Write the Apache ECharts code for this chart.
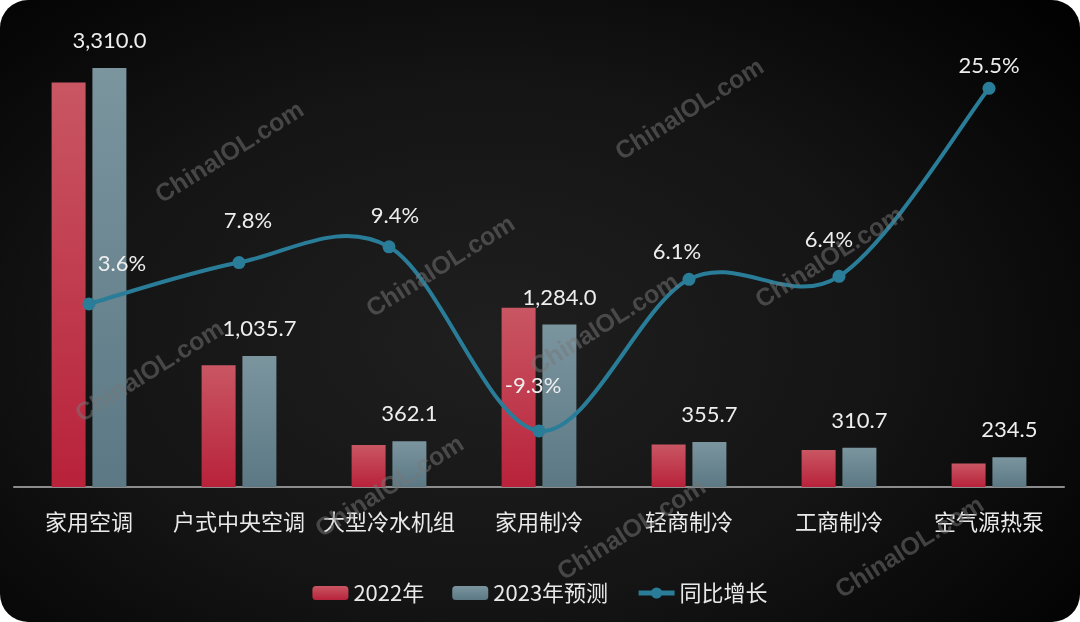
<!DOCTYPE html>
<html>
<head>
<meta charset="utf-8">
<script src="https://cdn.jsdelivr.net/npm/echarts@6/dist/echarts.min.js"></script>
<style>
  html, body { margin: 0; padding: 0; background: #ffffff; }
  #wrap {
    width: 1080px; height: 622px; border-radius: 28px; overflow: hidden;
    background: radial-gradient(ellipse 75% 85% at 45% 55%, #1f1f1f 0%, #141414 50%, #050505 85%, #000 100%);
  }
  #chart { width: 1080px; height: 622px; }
</style>
</head>
<body>
<div id="wrap"><div id="chart"></div></div>
<script>
const categories = ['家用空调', '户式中央空调', '大型冷水机组', '家用制冷', '轻商制冷', '工商制冷', '空气源热泵'];
const values2022 = [3195, 961, 331, 1416, 335, 292, 185];
const values2023 = [3310.0, 1035.7, 362.1, 1284.0, 355.7, 310.7, 234.5];
const growth = [3.6, 7.8, 9.4, -9.3, 6.1, 6.4, 25.5];
const seriesNames = ['2022年', '2023年预测', '同比增长'];

// label placement (style only)
const growthLabelOffsets = [[33, -40], [9, -42], [6, -31], [-6, -45], [-12, -27], [-10, -36], [0, -22]];

const watermarkCenters = [[230,153],[690,110],[441,267],[150,372],[830,258],[605,325],[390,487],[632,530],[910,548]];

const chart = echarts.init(document.getElementById('chart'), null, { renderer: 'canvas' });

const numFont = 'Lato, "Noto Sans", "Noto Sans CJK SC", sans-serif';
const cjkFont = '"Noto Sans CJK SC", Lato, sans-serif';
const lineColor = '#2a7d98';

const redGrad = new echarts.graphic.LinearGradient(0, 0, 0, 1, [
  { offset: 0, color: '#c95663' }, { offset: 1, color: '#b8223a' }]);
const grayGrad = new echarts.graphic.LinearGradient(0, 0, 0, 1, [
  { offset: 0, color: '#7b959f' }, { offset: 1, color: '#5b7884' }]);

// Catmull-Rom spline through the growth points, positioned with the chart's own axes
function renderCurve(params, api) {
  if (params.dataIndex !== 0) return null;
  const pts = growth.map((v, i) => api.coord([i, v]));
  const n = pts.length;
  let d = 'M' + pts[0][0] + ' ' + pts[0][1];
  for (let i = 0; i < n - 1; i++) {
    const p0 = pts[Math.max(i - 1, 0)], p1 = pts[i], p2 = pts[i + 1], p3 = pts[Math.min(i + 2, n - 1)];
    const c1x = p1[0] + (p2[0] - p0[0]) / 6, c1y = p1[1] + (p2[1] - p0[1]) / 6;
    const c2x = p2[0] - (p3[0] - p1[0]) / 6, c2y = p2[1] - (p3[1] - p1[1]) / 6;
    d += ' C' + c1x + ' ' + c1y + ' ' + c2x + ' ' + c2y + ' ' + p2[0] + ' ' + p2[1];
  }
  return {
    type: 'path',
    shape: { pathData: d },
    style: { fill: 'none', stroke: lineColor, lineWidth: 4, lineCap: 'round', lineJoin: 'round' },
    silent: true
  };
}

const option = {
  backgroundColor: 'transparent',
  animation: false,
  grid: { left: 14, right: 16, top: 44, bottom: 135, containLabel: false },
  legend: {
    data: [
      { name: seriesNames[0] },
      { name: seriesNames[1] },
      { name: seriesNames[2], lineStyle: { color: lineColor, width: 5, opacity: 1 } }
    ],
    left: 'center',
    top: 577,
    itemWidth: 36,
    itemHeight: 14,
    itemGap: 28,
    lineStyle: { width: 5 },
    textStyle: { color: '#e8e8e8', fontSize: 22, fontFamily: cjkFont }
  },
  xAxis: {
    type: 'category',
    data: categories,
    axisLine: { show: true, lineStyle: { color: '#8c8c8c', width: 2 } },
    axisTick: { show: false },
    axisLabel: { color: '#eaeaea', fontSize: 22, fontFamily: cjkFont, margin: 24, interval: 0 }
  },
  yAxis: [
    { type: 'value', min: 0, max: 3500, show: false, splitLine: { show: false } },
    { type: 'value', min: -15, max: 30, show: false, splitLine: { show: false } }
  ],
  series: [
    {
      name: seriesNames[0], type: 'bar', data: values2022, barWidth: 34, barGap: '20%',
      itemStyle: { color: redGrad }
    },
    {
      name: seriesNames[1], type: 'bar', data: values2023, barWidth: 34,
      itemStyle: { color: grayGrad },
      label: {
        show: true, position: 'top', distance: 16, color: '#eeeeee', fontSize: 22,
        fontFamily: numFont,
        formatter: p => p.value.toLocaleString('en-US', { minimumFractionDigits: 1, maximumFractionDigits: 1 })
      }
    },
    {
      name: 'curve', type: 'custom', yAxisIndex: 1, z: 4,
      data: growth.map((v, i) => [i, v]),
      renderItem: renderCurve,
      silent: true
    },
    {
      name: seriesNames[2], type: 'line', yAxisIndex: 1,
      data: growth.map((v, i) => ({ value: v, label: { offset: growthLabelOffsets[i] } })),
      symbol: 'circle', symbolSize: 13,
      lineStyle: { color: lineColor, width: 4, opacity: 0 },
      itemStyle: { color: lineColor },
      z: 5,
      label: {
        show: true, position: 'inside', color: '#eeeeee', fontSize: 22, fontFamily: numFont,
        formatter: p => p.value.toFixed(1) + '%'
      }
    }
  ],
  graphic: watermarkCenters.map(c => ({
    type: 'text', x: c[0], y: c[1], rotation: 32 * Math.PI / 180, z: 100, silent: true,
    style: {
      text: 'ChinaIOL.com', fill: 'rgba(120,120,120,0.5)',
      font: 'bold 25px "Liberation Sans", Arial, sans-serif',
      textAlign: 'center', textVerticalAlign: 'middle'
    }
  }))
};
chart.setOption(option);
</script>
</body>
</html>
